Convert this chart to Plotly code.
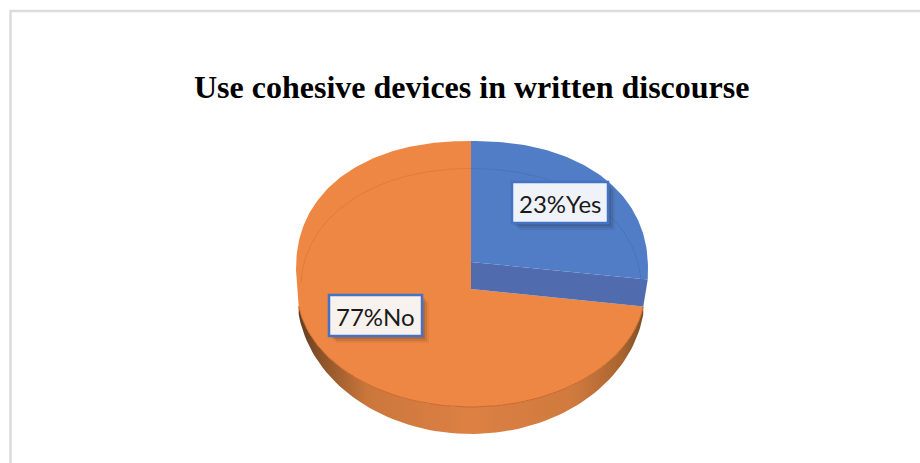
import numpy as np
import plotly.graph_objects as go

# ---- data ----
title = "Use cohesive devices in written discourse"
categories = ["Yes", "No"]
values = [23, 77]
box_fills = ["#eff3f9", "#f7f2ee"]

# ---- view of the tilted disc, in pixel-like axis units ----
CX = 471
TOP_BLUE = dict(cy=270, a=177, b=129, p=0.9)    # upper rim of the raised slice
TOP_ORANGE = dict(cy=270, a=175, b=129, p=0.9)  # upper rim of the main slice
FRONT = dict(cy=290, a=174, b=117, p=1)         # front edge of the top face
BASE = dict(cy=295, a=174, b=139, p=1)          # lower rim of the side wall
INNER = dict(cy=288, a=170, b=119.5, p=0.95)    # faint inner ring
APEX_TOP, APEX_LOW = 262, 289
PERSPECTIVE_TOP, PERSPECTIVE_LOW = 1.125, 1.185  # foreshortening of the slice sweep
WALL_END = 262

BLUE, BLUE_WALL, ORANGE = "#507dc5", "#506cae", "#ee8744"


def arc(e, d0, d1, n=90):
    t = np.radians(np.linspace(d0, d1, n))
    s, c = np.sin(t), np.cos(t)
    return (CX + e["a"] * np.sign(s) * np.abs(s) ** e["p"],
            e["cy"] - e["b"] * np.sign(c) * np.abs(c) ** e["p"])


sweep = 360 * values[0] / sum(values)
edge_top = sweep * PERSPECTIVE_TOP
edge_low = sweep * PERSPECTIVE_LOW

fig = go.Figure()


def poly(parts, **kw):
    xs = np.concatenate([np.atleast_1d(p[0]) for p in parts])
    ys = np.concatenate([np.atleast_1d(p[1]) for p in parts])
    fig.add_trace(go.Scatter(x=xs, y=ys, mode="lines", fill="toself",
                             hoverinfo="skip", showlegend=False, **kw))


# side wall with the dark rounded shading
poly([arc(BASE, edge_low, WALL_END), arc(FRONT, WALL_END, edge_low)],
     line=dict(width=0, color="#c86a2c"),
     fillgradient=dict(type="horizontal", colorscale=[
         [0, "#5f3c1f"], [0.06, "#8a5128"], [0.2, "#cb773c"], [0.5, "#dd8044"],
         [0.8, "#cf7a3e"], [0.94, "#a8642f"], [1, "#7d4d26"]]))
# main slice
poly([arc(FRONT, edge_low, WALL_END), arc(TOP_ORANGE, 270, 360), ([CX], [APEX_LOW])],
     line=dict(width=0, color=ORANGE), fillcolor=ORANGE)
# front edge line
fx, fy = arc(FRONT, edge_low, WALL_END)
fig.add_trace(go.Scatter(x=fx, y=fy, mode="lines", hoverinfo="skip", showlegend=False,
                         line=dict(width=1, color="#c9682c")))
# raised slice: wall then top
wx, wy = arc(TOP_BLUE, edge_top, edge_top, 1)
lx, ly = arc(FRONT, edge_low, edge_low, 1)
poly([([CX], [APEX_TOP]), (wx, wy), (lx, ly), ([CX], [APEX_LOW])],
     line=dict(width=0, color=BLUE_WALL), fillcolor=BLUE_WALL)
poly([([CX], [APEX_TOP]), arc(TOP_BLUE, 0, edge_top)],
     line=dict(width=0, color=BLUE), fillcolor=BLUE)
# faint inner ring
for d0, d1, c in [(0, edge_top - 3, "#4a74b8"), (272, 360, "#df7c3c")]:
    ix, iy = arc(INNER, d0, d1)
    fig.add_trace(go.Scatter(x=ix, y=iy, mode="lines", hoverinfo="skip", showlegend=False,
                             line=dict(width=1, color=c)))

labels = [f"{v}%{c}" for v, c in zip(values, categories)]
boxes = [(512, 182, 608, 223), (329, 295, 422, 336)]
shapes = [dict(type="rect", xref="x", yref="y", x0=10.5, y0=11, x1=940, y1=480,
               line=dict(color="#dcdcdc", width=2.5), layer="below")]
annotations = []
for text, fill, (x0, y0, x1, y1) in zip(labels, box_fills, boxes):
    for off, op in [(7, 0.07), (5, 0.10), (3, 0.14), (1, 0.16)]:
        shapes.append(dict(type="rect", xref="x", yref="y", x0=x0 + off, y0=y0 + off,
                           x1=x1 + off, y1=y1 + off, fillcolor="#222222", opacity=op,
                           line=dict(width=0)))
    shapes.append(dict(type="rect", xref="x", yref="y", x0=x0, y0=y0, x1=x1, y1=y1,
                       fillcolor=fill, line=dict(color="#4472c4", width=2.5)))
    annotations.append(dict(x=(x0 + x1) / 2, y=(y0 + y1) / 2 + 1, xref="x", yref="y", text=text,
                            showarrow=False, font=dict(family="Lato, Open Sans, sans-serif",
                                                       size=24, color="#1a1a1a")))
annotations.append(dict(x=471.5, y=87, xref="x", yref="y", text=f"<b>{title}</b>", showarrow=False,
                        font=dict(family="Liberation Serif, serif", size=32, color="#000000")))

fig.update_layout(
    width=920, height=463, margin=dict(l=0, r=0, t=0, b=0),
    paper_bgcolor="white", plot_bgcolor="white", showlegend=False,
    xaxis=dict(range=[0, 920], visible=False, fixedrange=True),
    yaxis=dict(range=[463, 0], visible=False, fixedrange=True),
    shapes=shapes, annotations=annotations,
)
fig.write_html("out.html", config={"displayModeBar": False},
               post_script="document.body.style.margin='0';document.documentElement.style.overflow='hidden';")
